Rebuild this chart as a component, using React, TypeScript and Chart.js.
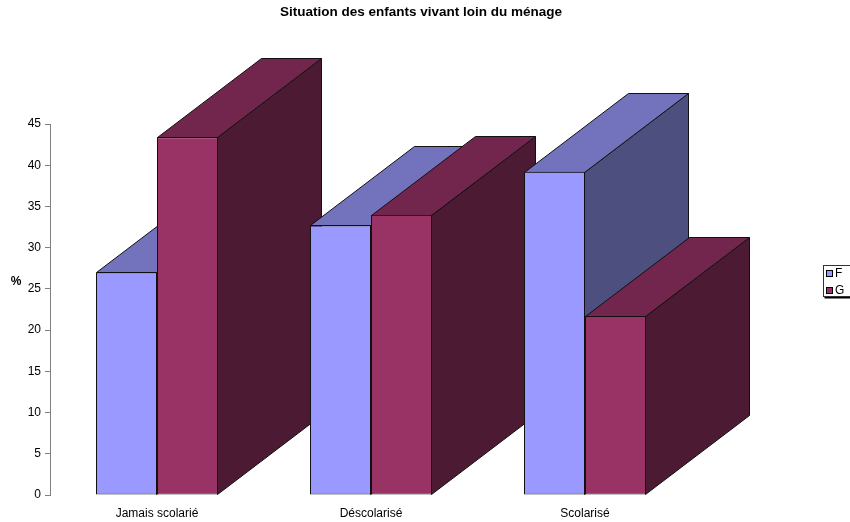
import React, { useEffect, useRef } from "react";
import { Chart, registerables } from "chart.js";

Chart.register(...registerables);

const TITLE = "Situation des enfants vivant loin du ménage";
const CATEGORIES = ["Jamais scolarié", "Déscolarisé", "Scolarisé"];
const SERIES_NAMES = ["F", "G"];
const F_VALUES = [27.0, 32.7, 39.2];
const G_VALUES = [43.4, 34.0, 21.7];
const Y_TITLE = "%";

const FRONT = ["#9999FF", "#993366"];
const TOP = ["#7373BD", "#73264D"];
const SIDE = ["#4D4F7F", "#4D1A33"];
const DEPTH_X = 104;
const DEPTH_Y = 79;
const FONT = "'Liberation Sans', Arial, sans-serif";

const threeD = {
  id: "threeD",
  beforeDatasetsDraw(chart: any) {
    const ctx = chart.ctx;
    ctx.save();
    ctx.lineWidth = 1;
    ctx.strokeStyle = "#111";
    ctx.lineJoin = "miter";
    for (let i = 0; i < CATEGORIES.length; i++) {
      for (let d = 0; d < chart.data.datasets.length; d++) {
        const el: any = chart.getDatasetMeta(d).data[i];
        if (!el) continue;
        const w = el.width;
        const l = Math.round(el.x - w / 2) + 0.5;
        const r = Math.round(el.x + w / 2) - 0.5;
        const t = Math.round(el.y) + 0.5;
        const b = Math.round(el.base) - 0.5;
        // side
        ctx.beginPath();
        ctx.moveTo(r, t);
        ctx.lineTo(r + DEPTH_X, t - DEPTH_Y);
        ctx.lineTo(r + DEPTH_X, b - DEPTH_Y);
        ctx.lineTo(r, b);
        ctx.closePath();
        ctx.fillStyle = SIDE[d];
        ctx.fill();
        ctx.stroke();
        // top
        ctx.beginPath();
        ctx.moveTo(l, t);
        ctx.lineTo(l + DEPTH_X, t - DEPTH_Y);
        ctx.lineTo(r + DEPTH_X, t - DEPTH_Y);
        ctx.lineTo(r, t);
        ctx.closePath();
        ctx.fillStyle = TOP[d];
        ctx.fill();
        ctx.stroke();
      }
    }
    ctx.restore();
  },
  afterDraw(chart: any) {
    const ctx = chart.ctx;
    ctx.save();
    // title
    ctx.fillStyle = "#000";
    ctx.font = `bold 13.5px ${FONT}`;
    ctx.textAlign = "center";
    ctx.textBaseline = "middle";
    ctx.fillText(TITLE, 421, 12);
    // y title
    ctx.font = `bold 12px ${FONT}`;
    ctx.fillText(Y_TITLE, 16, 282);
    // legend
    const lx = 823.5;
    const ly = 265.5;
    ctx.fillStyle = "#000";
    ctx.fillRect(lx + 1, ly + 31, 40, 2);
    ctx.fillStyle = "#fff";
    ctx.fillRect(lx, ly, 40, 31);
    ctx.strokeStyle = "#333";
    ctx.lineWidth = 1;
    ctx.strokeRect(lx, ly, 40, 31);
    ctx.font = `12px ${FONT}`;
    ctx.textAlign = "left";
    SERIES_NAMES.forEach((name, k) => {
      const sy = 270.5 + k * 17;
      ctx.fillStyle = FRONT[k];
      ctx.fillRect(826.5, sy, 6, 6);
      ctx.strokeStyle = "#000";
      ctx.strokeRect(826.5, sy, 6, 6);
      ctx.fillStyle = "#000";
      ctx.fillText(name, 835, sy + 3.5);
    });
    ctx.restore();
  },
};

export default function App() {
  const ref = useRef<HTMLCanvasElement>(null);
  useEffect(() => {
    if (!ref.current) return;
    const chart = new Chart(ref.current, {
      type: "bar",
      data: {
        labels: CATEGORIES,
        datasets: [F_VALUES, G_VALUES].map((vals, k) => ({
          label: SERIES_NAMES[k],
          data: vals,
          backgroundColor: FRONT[k],
          borderColor: "#111",
          borderWidth: 1,
          borderSkipped: false,
          categoryPercentage: 122 / 214,
          barPercentage: 1,
        })),
      },
      options: {
        responsive: false,
        animation: false,
        events: [],
        layout: { padding: { top: 124, right: 158, bottom: 0, left: 0 } },
        plugins: {
          legend: { display: false },
          title: { display: false },
          tooltip: { enabled: false },
        },
        scales: {
          x: {
            grid: { display: false, drawTicks: false },
            border: { display: false },
            ticks: { color: "#000", font: { family: FONT, size: 12 }, padding: 11 },
            afterFit: (s: any) => {
              s.height = 27;
            },
          },
          y: {
            min: 0,
            max: 45,
            grid: { drawOnChartArea: false, drawTicks: true, tickLength: 5, color: "#808080" },
            border: { display: true, color: "#808080" },
            ticks: {
              stepSize: 5,
              color: "#000",
              font: { family: FONT, size: 12 },
              padding: 4,
            },
            afterFit: (s: any) => {
              s.width = 50;
            },
          },
        },
      },
      plugins: [threeD],
    });
    return () => chart.destroy();
  }, []);
  return (
    <div style={{ position: "fixed", left: 0, top: 0, width: 850, height: 522, background: "#fff" }}>
      <canvas ref={ref} width={850} height={522} />
    </div>
  );
}
